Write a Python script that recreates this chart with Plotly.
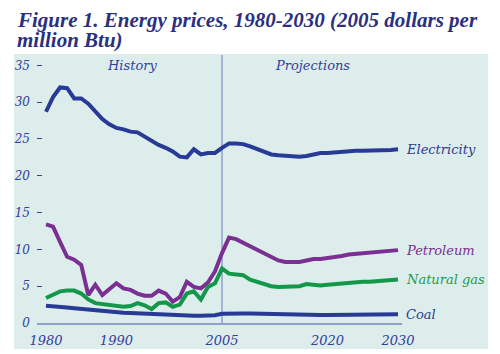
import plotly.graph_objects as go

years = list(range(1980, 2031))

electricity = [28.7, 30.7, 32.0, 31.9, 30.5, 30.5, 29.8, 28.8, 27.7, 27.0,
               26.5, 26.3, 26.0, 25.9, 25.3, 24.8, 24.2, 23.8, 23.3, 22.6,
               22.5, 23.6, 22.9, 23.1, 23.1, 23.8,
               24.4, 24.4, 24.3, 24.0, 23.6, 23.2, 22.9, 22.8, 22.7, 22.6,
               22.6, 22.7, 22.9, 23.1, 23.1, 23.2, 23.2, 23.3, 23.4, 23.4,
               23.4, 23.4, 23.5, 23.5, 23.6]

petroleum = [13.4, 13.1, 11.0, 9.0, 8.6, 7.9, 3.8, 5.2, 3.8, 4.6,
             5.4, 4.7, 4.5, 4.0, 3.7, 3.7, 4.4, 4.0, 2.9, 3.5,
             5.6, 4.9, 4.7, 5.5, 7.0, 9.5,
             11.6, 11.4, 10.9, 10.5, 10.0, 9.5, 8.9, 8.5, 8.3, 8.3,
             8.3, 8.5, 8.7, 8.7, 8.8, 8.9, 9.1, 9.3, 9.4, 9.5,
             9.6, 9.7, 9.7, 9.8, 9.9]

natural_gas = [3.4, 3.8, 4.3, 4.4, 4.4, 4.0, 3.2, 2.7, 2.6, 2.4,
               2.4, 2.2, 2.3, 2.7, 2.4, 1.9, 2.7, 2.8, 2.2, 2.5,
               4.0, 4.3, 3.2, 4.9, 5.4, 7.4,
               6.7, 6.6, 6.5, 5.9, 5.6, 5.3, 5.0, 4.9, 4.9, 4.9,
               5.0, 5.3, 5.2, 5.1, 5.2, 5.3, 5.4, 5.5, 5.6, 5.6,
               5.6, 5.7, 5.8, 5.8, 5.9]

coal = [2.35, 2.3, 2.2, 2.1, 2.0, 1.9, 1.8, 1.7, 1.6, 1.5,
        1.45, 1.4, 1.35, 1.3, 1.25, 1.2, 1.15, 1.1, 1.05, 1.0,
        1.0, 1.0, 1.0, 1.0, 1.05, 1.25,
        1.3, 1.3, 1.3, 1.28, 1.25, 1.22, 1.2, 1.18, 1.16, 1.15,
        1.13, 1.12, 1.11, 1.1, 1.1, 1.1, 1.1, 1.11, 1.12, 1.13,
        1.14, 1.15, 1.16, 1.18, 1.2]

series_names = ["Electricity", "Petroleum", "Natural gas", "Coal"]
series_values = [electricity, petroleum, natural_gas, coal]
series_colors = ["#263a96", "#7b2f93", "#13984a", "#263a96"]
label_colors = ["#2e3a8f", "#7a2f8f", "#1e9a4e", "#2e3a8f"]

x_tick_vals = [1980, 1990, 2005, 2020, 2030]
y_tick_vals = [0, 5, 10, 15, 20, 25, 30, 35]

title_lines = ["Figure 1. Energy prices, 1980-2030 (2005 dollars per",
               "million Btu)"]

ink = "#34409a"
serif = "DejaVu Serif"

fig = go.Figure()
for name, vals, col in zip(series_names, series_values, series_colors):
    fig.add_trace(go.Scatter(x=years, y=vals, mode="lines", name=name,
                             line=dict(color=col, width=4), showlegend=False,
                             cliponaxis=False))

for name, vals, col in zip(series_names, series_values, label_colors):
    fig.add_annotation(x=2030, y=vals[-1], text=name, showarrow=False,
                       xanchor="left", yanchor="middle", xshift=6,
                       font=dict(family=serif, size=13, color=col, style="italic"))

# background panel
fig.add_shape(type="rect", xref="paper", yref="paper",
              x0=-0.063, x1=1.2356, y0=-0.0989, y1=1.0228,
              fillcolor="#dcedec", line=dict(width=0), layer="below")
# 2005 divider
fig.add_shape(type="line", xref="x", yref="paper", x0=2005, x1=2005,
              y0=0, y1=1.019, line=dict(color="#8fa0cc", width=1.5), layer="below")

fig.add_annotation(x=1992.2, y=35, text="History", showarrow=False,
                   xanchor="center", yanchor="middle",
                   font=dict(family=serif, size=13, color=ink, style="italic"))
fig.add_annotation(x=2017.9, y=35, text="Projections", showarrow=False,
                   xanchor="center", yanchor="middle",
                   font=dict(family=serif, size=13, color=ink, style="italic"))

for line_text, ypos in zip(title_lines, [1.152, 1.076]):
    fig.add_annotation(xref="paper", yref="paper", x=-0.06, y=ypos,
                       xanchor="left", yanchor="middle", align="left", showarrow=False,
                       text="<b><i>" + line_text + "</i></b>",
                       font=dict(family="Liberation Serif", size=21, color="#2b2f80"))

fig.update_layout(
    width=500, height=354,
    margin=dict(l=37, r=98, t=60, b=31),
    paper_bgcolor="white", plot_bgcolor="#dcedec",
    xaxis=dict(range=[1978.72, 2030.57], tickvals=x_tick_vals, showgrid=False,
               zeroline=False, showline=True, linecolor="#8fa0cc", linewidth=1.5,
               ticks="", ticklabelstandoff=5, automargin=False,
               tickfont=dict(family=serif, size=13, color=ink, style="italic")),
    yaxis=dict(range=[0, 35.73], tickvals=y_tick_vals, showgrid=False,
               zeroline=False, showline=False, ticks="inside", ticklen=5,
               tickcolor=ink, tickwidth=1, ticklabelstandoff=6, automargin=False,
               tickfont=dict(family=serif, size=12, color=ink, style="italic")),
)

fig.write_html("out.html")
